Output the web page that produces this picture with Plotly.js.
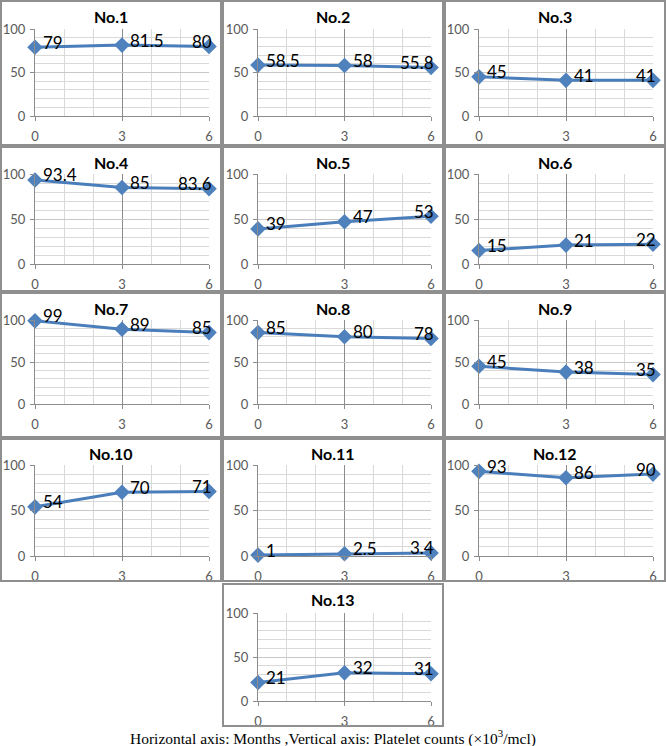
<!DOCTYPE html>
<html>
<head>
<meta charset="utf-8">
<script src="https://cdn.plot.ly/plotly-3.0.1.min.js"></script>
<style>
html,body{margin:0;padding:0;background:#fff;}
#chart{width:666px;height:746px;}
</style>
</head>
<body>
<div id="chart"></div>
<script>
// ---- data ----
const months = [0, 3, 6];
const patients = ['No.1','No.2','No.3','No.4','No.5','No.6','No.7','No.8','No.9','No.10','No.11','No.12','No.13'];
const no1  = [79, 81.5, 80];
const no2  = [58.5, 58, 55.8];
const no3  = [45, 41, 41];
const no4  = [93.4, 85, 83.6];
const no5  = [39, 47, 53];
const no6  = [15, 21, 22];
const no7  = [99, 89, 85];
const no8  = [85, 80, 78];
const no9  = [45, 38, 35];
const no10 = [54, 70, 71];
const no11 = [1, 2.5, 3.4];
const no12 = [93, 86, 90];
const no13 = [21, 32, 31];
const series = [no1,no2,no3,no4,no5,no6,no7,no8,no9,no10,no11,no12,no13];
const yTicks = [0, 50, 100];
const xTicks = [0, 3, 6];
const caption = 'Horizontal axis: Months ,Vertical axis: Platelet counts (×10<sup>3</sup>/mcl)';

// ---- layout geometry (pixels) ----
const W = 666, H = 746;
const colPlot = [[35,209],[258,431],[479,653]];
const rowPlot = [[29,116],[174,264],[320,404],[465,556],[613,701]];
const colRect = [[1,221],[223,443],[445,665]];
const rowRect = [[1,145],[147,291],[293,437],[439,581],[584,726]];

const traces = [];
const layout = {
  width: W, height: H,
  margin: {l:0, r:0, t:0, b:0},
  paper_bgcolor: '#fff', plot_bgcolor: '#fff',
  showlegend: false,
  shapes: [], annotations: []
};

const px = x => x / W;
const py = y => 1 - y / H;

series.forEach((vals, i) => {
  let r = Math.floor(i / 3), c = i % 3;
  if (i === 12) { r = 4; c = 1; }
  const n = i + 1;
  const xa = n === 1 ? 'x' : 'x' + n;
  const ya = n === 1 ? 'y' : 'y' + n;
  const xKey = n === 1 ? 'xaxis' : 'xaxis' + n;
  const yKey = n === 1 ? 'yaxis' : 'yaxis' + n;

  traces.push({
    type: 'scatter', mode: 'lines+markers',
    x: months, y: vals, xaxis: xa, yaxis: ya,
    line: {color: '#4a7ebb', width: 3},
    marker: {symbol: 'diamond', size: 12, color: '#4f81bd'},
    cliponaxis: false, hoverinfo: 'skip'
  });

  layout[xKey] = {
    domain: [px(colPlot[c][0]), px(colPlot[c][1])],
    anchor: ya, range: [0, 6], fixedrange: true,
    tickvals: xTicks, ticktext: xTicks.map(String),
    ticks: 'outside', ticklen: 4, tickcolor: '#8c8c8c',
    ticklabelstandoff: 4,
    showline: true, linecolor: '#8c8c8c', linewidth: 1,
    showgrid: true, gridcolor: '#8c8c8c', gridwidth: 1,
    zeroline: false,
    minor: {dtick: 1, tick0: 0, showgrid: true, gridcolor: '#d9d9d9', gridwidth: 1},
    tickfont: {family: 'Lato', size: 13, color: '#595959'}
  };
  layout[yKey] = {
    domain: [py(rowPlot[r][1]), py(rowPlot[r][0])],
    anchor: xa, range: [0, 100], fixedrange: true,
    tickvals: yTicks, ticktext: yTicks.map(String),
    ticks: 'outside', ticklen: 4, tickcolor: '#8c8c8c',
    ticklabelstandoff: 2,
    showline: true, linecolor: '#8c8c8c', linewidth: 1,
    showgrid: true, gridcolor: '#c8c8c8', gridwidth: 1,
    zeroline: false,
    minor: {dtick: 10, tick0: 0, showgrid: true, gridcolor: '#d9d9d9', gridwidth: 1},
    tickfont: {family: 'Lato', size: 13, color: '#595959'}
  };

  // panel border
  layout.shapes.push({
    type: 'rect', xref: 'paper', yref: 'paper',
    x0: px(colRect[c][0]), x1: px(colRect[c][1]),
    y0: py(rowRect[r][1]), y1: py(rowRect[r][0]),
    line: {color: '#8f8f8f', width: 2}, fillcolor: 'rgba(0,0,0,0)', layer: 'above'
  });

  // panel title
  layout.annotations.push({
    xref: 'paper', yref: 'paper',
    x: px((colRect[c][0] + colRect[c][1]) / 2), y: py(rowRect[r][0] + 15),
    xanchor: 'center', yanchor: 'middle', showarrow: false,
    text: '<b>' + patients[i] + '</b>',
    font: {family: 'Lato', size: 16, color: '#000'}
  });

  // data labels
  vals.forEach((v, k) => {
    const last = k === vals.length - 1;
    layout.annotations.push({
      xref: xa, yref: ya, x: months[k], y: v,
      text: String(v), showarrow: false,
      xanchor: last ? 'right' : 'left', yanchor: 'middle',
      xshift: last ? 5 : 6, yshift: 5,
      font: {family: 'Lato', size: 17, color: '#000'}
    });
  });
});

layout.annotations.push({
  xref: 'paper', yref: 'paper', x: 0.5, y: py(737),
  xanchor: 'center', yanchor: 'middle', showarrow: false,
  text: caption,
  font: {family: 'Liberation Serif', size: 15.5, color: '#000'}
});

Plotly.newPlot('chart', traces, layout, {staticPlot: true, displayModeBar: false});
</script>
</body>
</html>
